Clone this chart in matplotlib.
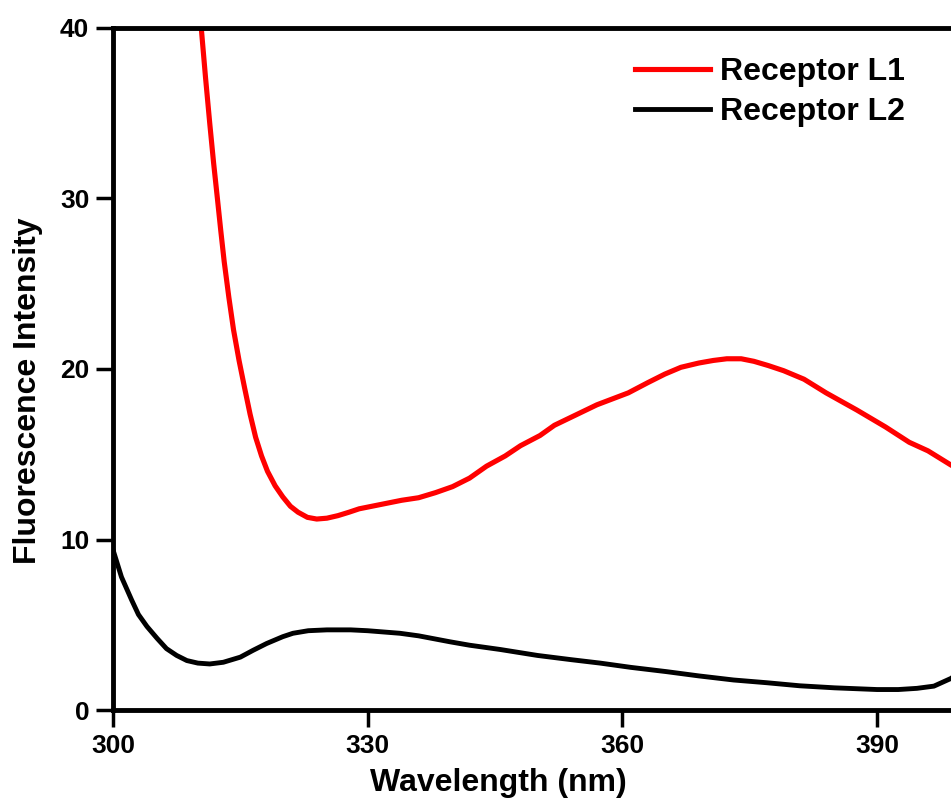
import matplotlib
matplotlib.use('Agg')
import matplotlib.pyplot as plt

plt.rcParams['font.family'] = ['Liberation Sans', 'DejaVu Sans']
plt.rcParams['font.weight'] = 'bold'

# Receptor L1 (red)
l1_wl = [310.2, 310.4, 310.9, 311.4, 311.85, 312.3, 312.7, 313.1, 313.65, 314.2,
         314.85, 315.5, 316.15, 316.8, 317.5, 318.2, 319.1, 320.0, 320.9, 321.8,
         322.9, 324.0, 325.2, 326.5, 327.8, 329.0, 330.5, 332.0, 334.0, 336.0,
         338.0, 340.0, 342.0, 344.0, 346.2, 348.0, 350.3, 352.0, 354.5, 357.0,
         360.7, 363.0, 365.0, 366.9, 369.0, 370.7, 372.3, 374.0, 375.5, 377.2,
         379.0, 381.4, 384.0, 387.6, 391.0, 393.8, 396.0, 398.6, 400.0]
l1_int = [41.2, 40.0, 37.1, 34.4, 32.1, 30.0, 28.1, 26.3, 24.2, 22.3,
          20.5, 18.9, 17.35, 16.0, 14.9, 14.0, 13.15, 12.5, 11.95, 11.6,
          11.3, 11.2, 11.25, 11.4, 11.6, 11.8, 11.95, 12.1, 12.3, 12.45,
          12.75, 13.1, 13.6, 14.3, 14.9, 15.5, 16.1, 16.7, 17.3, 17.9,
          18.6, 19.2, 19.7, 20.1, 20.35, 20.5, 20.6, 20.6, 20.45, 20.2,
          19.9, 19.4, 18.6, 17.6, 16.6, 15.7, 15.2, 14.4, 14.0]

# Receptor L2 (black)
l2_wl = [300.0, 301.0, 302.2, 303.0, 304.0, 305.2, 306.3, 307.5, 308.7, 310.0,
         311.4, 313.0, 315.0, 316.5, 318.1, 320.0, 321.2, 323.0, 325.2, 328.0,
         330.0, 333.8, 336.0, 339.7, 342.0, 345.6, 350.0, 354.0, 357.4, 361.0,
         365.2, 369.0, 373.1, 377.0, 380.9, 385.0, 390.0, 392.5, 394.7, 396.7,
         398.7, 400.0]
l2_int = [9.4, 7.8, 6.45, 5.6, 4.9, 4.2, 3.6, 3.2, 2.9, 2.75,
          2.7, 2.8, 3.1, 3.5, 3.9, 4.3, 4.5, 4.65, 4.7, 4.7,
          4.65, 4.5, 4.35, 4.0, 3.8, 3.55, 3.2, 2.95, 2.75, 2.5,
          2.25, 2.0, 1.76, 1.6, 1.42, 1.3, 1.2, 1.2, 1.27, 1.4,
          1.85, 2.3]

x_ticks = [300, 330, 360, 390]
y_ticks = [0, 10, 20, 30, 40]

fig = plt.figure(figsize=(9.51, 8), dpi=100)
ax = fig.add_axes([0.1188, 0.1125, 0.8927, 0.8525])

ax.plot(l1_wl, l1_int, color='#ff0000', lw=3.7, label='Receptor L1')
ax.plot(l2_wl, l2_int, color='black', lw=3.5, label='Receptor L2')

ax.set_xlim(300, 400)
ax.set_ylim(0, 40)
ax.set_xticks(x_ticks)
ax.set_yticks(y_ticks)

for s in ax.spines.values():
    s.set_linewidth(3.5)
ax.tick_params(direction='out', length=12, width=2.5, labelsize=19, pad=5)

ax.set_xlabel('Wavelength (nm)', fontsize=23, fontweight='bold')
ax.set_ylabel('Fluorescence Intensity', fontsize=23, fontweight='bold')
ax.xaxis.set_label_coords(0.4535, -0.085)
ax.yaxis.set_label_coords(-0.083, 0.468)

leg = ax.legend(loc='upper left', bbox_to_anchor=(0.651, 0.949),
                bbox_transform=fig.transFigure, frameon=False,
                fontsize=23, handlelength=2.35, handletextpad=0.3,
                borderpad=0, labelspacing=0.32)

fig.savefig('out.png', dpi=100)
